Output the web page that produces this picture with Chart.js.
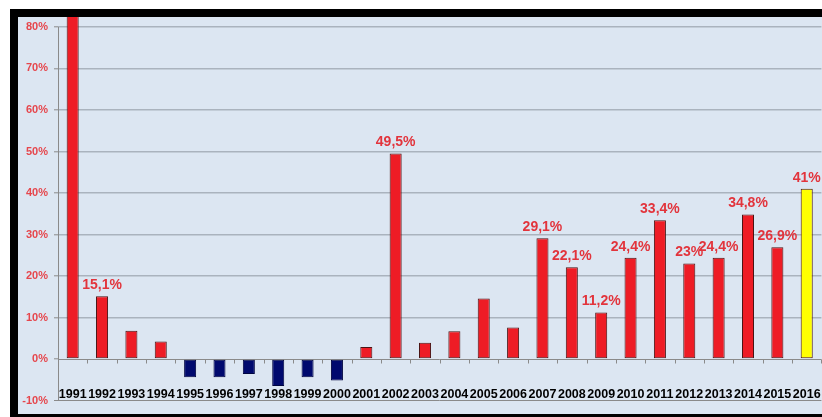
<!DOCTYPE html>
<html><head><meta charset="utf-8">
<script src="https://cdn.jsdelivr.net/npm/chart.js@4/dist/chart.umd.min.js"></script>
<style>html,body{margin:0;padding:0;background:#dce6f2;overflow:hidden;width:822px;height:417px}canvas{display:block;width:822px;height:417px}</style>
</head><body>
<canvas id="c" width="822" height="417"></canvas>
<script>
const years = ['1991','1992','1993','1994','1995','1996','1997','1998','1999','2000','2001','2002','2003','2004','2005','2006','2007','2008','2009','2010','2011','2012','2013','2014','2015','2016'];
const growth = [98, 15.1, 6.8, 4.2, -4.4, -4.4, -3.6, -6.5, -4.4, -5.2, 2.9, 49.5, 3.9, 6.7, 14.6, 7.6, 29.1, 22.1, 11.2, 24.4, 33.4, 23, 24.4, 34.8, 26.9, 41];
const labelledYears = ['1992','2002','2007','2008','2009','2010','2011','2012','2013','2014','2015','2016'];
const highlightYear = '2016';
const yTicks = [-10, 0, 10, 20, 30, 40, 50, 60, 70, 80];

const FONT = "'Liberation Sans', Arial, sans-serif";
const fmt = v => String(v).replace('.', ',') + '%';

const frame = {
  id: 'frame',
  beforeDraw(chart) {
    const c = chart.ctx;
    c.save();
    c.fillStyle = '#ffffff'; c.fillRect(0, 0, 822, 417);
    c.fillStyle = '#000000'; c.fillRect(10, 9, 830, 430);
    c.fillStyle = '#dce6f2'; c.fillRect(18, 17, 830, 397);
    c.restore();
  },
  beforeDatasetsDraw(chart) {
    const c = chart.ctx, x = chart.scales.x, y = chart.scales.y, a = chart.chartArea;
    c.save();
    c.strokeStyle = '#8a8a8a'; c.lineWidth = 1;
    const ax = Math.round(a.left) + 0.5;
    c.beginPath(); c.moveTo(ax, y.getPixelForValue(80)); c.lineTo(ax, y.getPixelForValue(-10)); c.stroke();
    const y0 = Math.round(y.getPixelForValue(0)) + 0.5;
    c.beginPath(); c.moveTo(a.left, y0); c.lineTo(a.right, y0); c.stroke();
    const half = (x.getPixelForValue(1) - x.getPixelForValue(0)) / 2;
    for (let i = 0; i <= years.length; i++) {
      const px = Math.round(x.getPixelForValue(i) - half) + 0.5;
      c.beginPath(); c.moveTo(px, y0); c.lineTo(px, y0 + 4); c.stroke();
    }
    c.restore();
  },
  afterDatasetsDraw(chart) {
    const c = chart.ctx, x = chart.scales.x;
    const meta = chart.getDatasetMeta(0);
    c.save();
    c.fillStyle = '#000000';
    c.font = `bold 12.5px ${FONT}`;
    c.textAlign = 'center'; c.textBaseline = 'middle';
    years.forEach((yr, i) => c.fillText(yr, x.getPixelForValue(i), 395));
    c.fillStyle = '#e2343c';
    c.font = `bold 14px ${FONT}`;
    years.forEach((yr, i) => {
      if (!labelledYears.includes(yr)) return;
      const bar = meta.data[i];
      c.fillText(fmt(growth[i]), bar.x, bar.y - 11);
    });
    c.restore();
  }
};

new Chart(document.getElementById('c'), {
  type: 'bar',
  data: {
    labels: years,
    datasets: [{
      data: growth,
      backgroundColor: ctx => years[ctx.dataIndex] === highlightYear ? '#ffff00' : (growth[ctx.dataIndex] < 0 ? '#00096e' : '#ee1c25'),
      borderColor: ctx => growth[ctx.dataIndex] < 0 ? '#000540' : '#4a1414',
      borderWidth: 1,
      borderSkipped: false,
      barPercentage: 0.41,
      categoryPercentage: 1
    }]
  },
  options: {
    responsive: false,
    animation: false,
    devicePixelRatio: 1,
    layout: { padding: { top: 17, bottom: 16.5, left: 0, right: 0.6 } },
    plugins: { legend: { display: false }, tooltip: { enabled: false } },
    scales: {
      x: { display: false, offset: true },
      y: {
        min: -10, max: 82.4,
        afterBuildTicks: s => { s.ticks = yTicks.map(v => ({ value: v })); },
        afterFit: s => { s.width = 58; },
        border: { display: false },
        grid: {
          color: ctx => ctx.tick && ctx.tick.value === 0 ? 'rgba(0,0,0,0)' : (ctx.tick && ctx.tick.value === -10 ? '#8a8a8a' : '#aab3be'),
          lineWidth: ctx => ctx.tick && ctx.tick.value === -10 ? 1 : 1.6,
          tickLength: 4,
          tickColor: '#8a8a8a',
          tickWidth: 1
        },
        ticks: {
          callback: v => v + '%',
          color: '#e6464c',
          font: { family: FONT, size: 11, weight: 'bold' },
          padding: 6
        }
      }
    }
  },
  plugins: [frame]
});
</script>
</body></html>
